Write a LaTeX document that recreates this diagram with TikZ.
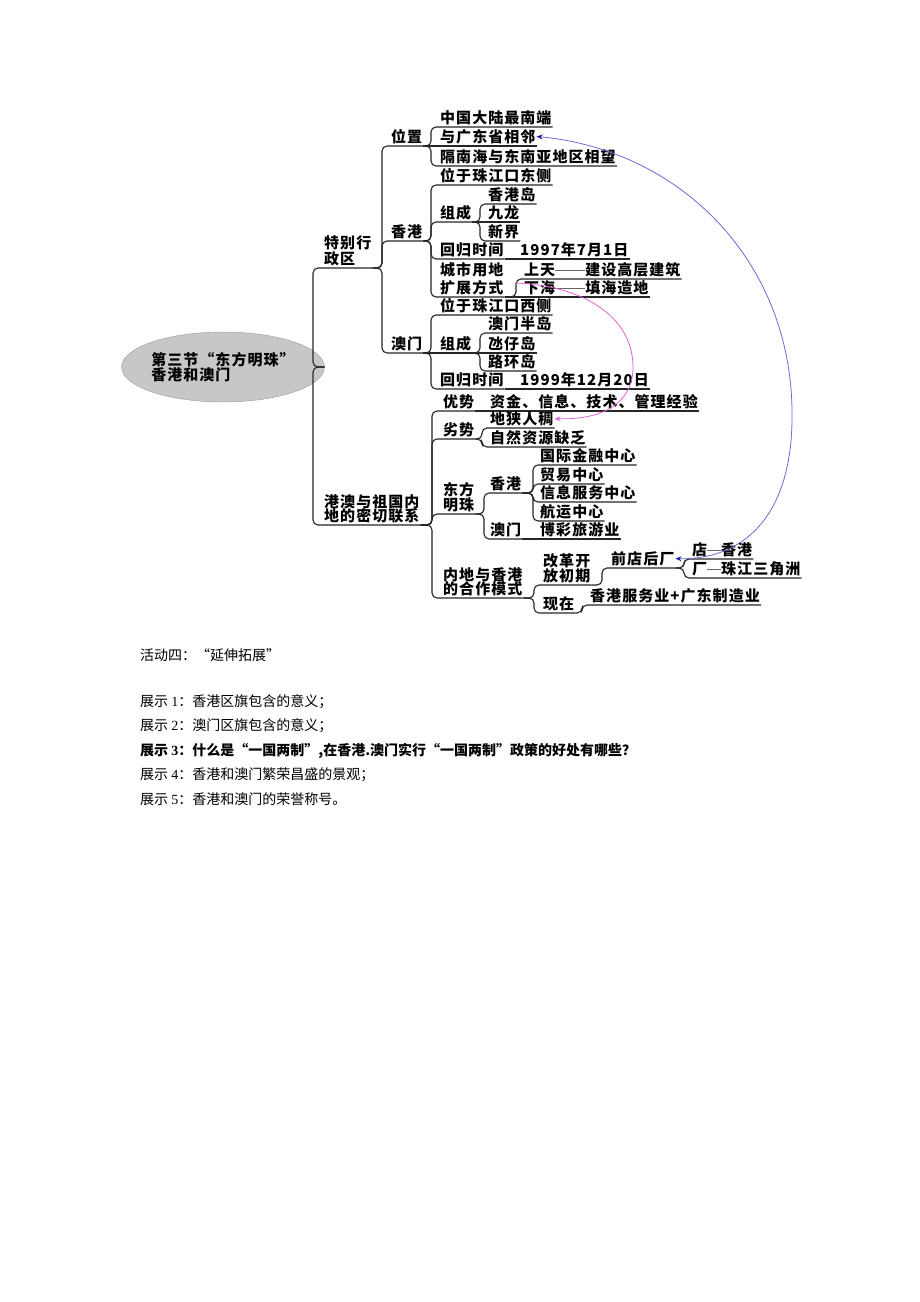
\documentclass[tikz,border=0pt]{standalone}
\usepackage{fontspec}
\setmainfont{Liberation Serif}
\newfontfamily\mmf[LetterSpace=7]{Noto Sans CJK SC}
\newfontfamily\cjkf{Noto Sans CJK SC}
\usetikzlibrary{arrows.meta,shapes.geometric}
\definecolor{pinkc}{HTML}{E066D6}
\definecolor{bluec}{HTML}{6B6BD6}
\definecolor{blueh}{HTML}{1A1AB0}
\newcommand\ldash[1]{\textcolor{black!60}{\rule[0.32em]{#1}{0.7pt}}}
\newcommand\kids[3]{\foreach \cc in {#3}{\draw[br] (#1.south east) -- (#2,0 |- #1.south east) -- (#2,0 |- \cc.south) -- (\cc.south east);}}
\newcommand\solo[2]{\draw[br] (#1.south east) -- (#2.south east);}
\begin{document}
\begin{tikzpicture}[x=1pt,y=-1pt,
 lbl/.style={font=\mmf\bfseries\fontsize{15}{16}\selectfont, inner xsep=1pt, inner ysep=2pt, anchor=south west, align=left},
 br/.style={line width=1.1pt, black!85, rounded corners=5pt},
 txt/.style={font=\cjkf\fontsize{14}{16}\selectfont, anchor=west, inner sep=0pt}]
\fill[white] (0,0) rectangle (920,1302);
\useasboundingbox (0,0) rectangle (920,1302);

% root
\node[draw=black!40, fill=black!22, ellipse, minimum width=168pt, minimum height=70pt, font=\mmf\bfseries\fontsize{15}{15}\selectfont, align=left, inner sep=0pt] (root) at (223,367) {第三节“东方明珠”\\香港和澳门};

% level 1
\node[lbl] (tb) at (323,268) {特别行\\政区};
\node[lbl] (gal) at (323,525) {港澳与祖国内\\[-2pt]地的密切联系};
\draw[br] (root.east) -- (313,0 |- root.east) -- (313,0 |- tb.south) -- (tb.south east);
\draw[br] (root.east) -- (313,0 |- root.east) -- (313,0 |- gal.south) -- (gal.south east);

% level 2 (special regions)
\node[lbl] (wz) at (390,146) {位置};
\node[lbl] (xg) at (390,241) {香港};
\node[lbl] (am) at (390,353) {澳门};
\kids{tb}{382}{wz,xg,am}

\node[lbl] (w1) at (439,127) {中国大陆最南端};
\node[lbl] (w2) at (439,146) {与广东省相邻};
\node[lbl] (w3) at (439,166) {隔南海与东南亚地区相望};
\kids{wz}{431}{w1,w3}
\solo{wz}{w2}

\node[lbl] (x1) at (439,185) {位于珠江口东侧};
\node[lbl] (x2) at (439,222) {组成};
\node[lbl] (x3) at (439,259) {回归时间};
\node[lbl] (x4) at (439,297) {城市用地\\[2pt]扩展方式};
\kids{xg}{431}{x1,x2,x3,x4}

\node[lbl] (x21) at (487,204) {香港岛};
\node[lbl] (x22) at (487,222) {九龙};
\node[lbl] (x23) at (487,241) {新界};
\kids{x2}{480}{x21,x23}
\solo{x2}{x22}
\node[lbl] (x31) at (519,259) {1997年7月1日};
\solo{x3}{x31}
\node[lbl] (x41) at (523,279) {上天\ldash{30pt}建设高层建筑};
\node[lbl] (x42) at (523,297) {下海\ldash{30pt}填海造地};
\kids{x4}{516}{x41}
\solo{x4}{x42}

\node[lbl] (a1) at (439,315) {位于珠江口西侧};
\node[lbl] (a2) at (439,353) {组成};
\node[lbl] (a3) at (439,389) {回归时间};
\kids{am}{431}{a1,a3}
\solo{am}{a2}
\node[lbl] (a21) at (487,333) {澳门半岛};
\node[lbl] (a22) at (487,353) {氹仔岛};
\node[lbl] (a23) at (487,371) {路环岛};
\kids{a2}{480}{a21,a23}
\solo{a2}{a22}
\node[lbl] (a31) at (519,389) {1999年12月20日};
\solo{a3}{a31}

% level 2 (links)
\node[lbl] (y1) at (442,411) {优势};
\node[lbl] (y2) at (442,439) {劣势};
\node[lbl] (y3) at (442,514) {东方\\[-1pt]明珠};
\node[lbl] (y4) at (442,598) {内地与香港\\[-2pt]的合作模式};
\kids{gal}{432}{y1,y2,y3,y4}

\node[lbl] (y11) at (489,411) {资金、信息、技术、管理经验};
\solo{y1}{y11}
\node[lbl] (y21) at (489,428) {地狭人稠};
\node[lbl] (y22) at (489,447) {自然资源缺乏};
\kids{y2}{482}{y21,y22}

\node[lbl] (y31) at (489,493) {香港};
\node[lbl] (y32) at (489,539) {澳门};
\kids{y3}{484}{y31,y32}
\node[lbl] (y311) at (539,465) {国际金融中心};
\node[lbl] (y312) at (539,484) {贸易中心};
\node[lbl] (y313) at (539,502) {信息服务中心};
\node[lbl] (y314) at (539,521) {航运中心};
\kids{y31}{533}{y311,y312,y313,y314}
\node[lbl] (y321) at (539,539) {博彩旅游业};
\solo{y32}{y321}

\node[lbl] (y41) at (542,585) {改革开\\[-1pt]放初期};
\node[lbl] (y42) at (542,613) {现在};
\kids{y4}{534}{y41,y42}
\node[lbl] (y411) at (610,568) {前店后厂};
\kids{y41}{602}{y411}
\node[lbl] (y4111) at (691,559) {店\ldash{14pt}香港};
\node[lbl] (y4112) at (691,578) {厂\ldash{14pt}珠江三角洲};
\kids{y411}{684}{y4111,y4112}
\node[lbl] (y421) at (589,605) {香港服务业+广东制造业};
\kids{y42}{582}{y421}

% cross arrows
\coordinate (ps) at (515,283);
\draw[pinkc, line width=0.8pt, -{Stealth[length=6pt,width=5pt]}] (ps) .. controls (580,285) and (633,315) .. (633,367) .. controls (633,405) and (600,420) .. (y21.east);
\draw[bluec, line width=0.8pt, {Stealth[length=6pt,width=5pt,color=blueh]}-{Stealth[length=6pt,width=5pt,color=blueh]}] (y411.east) .. controls (740,560) and (794,520) .. (792,410) .. controls (790,260) and (680,150) .. (w2.east);

% text below
\node[txt] (t0) at (140,655) {活动四：“延伸拓展”};
\node[txt] (t1) at (140,702) {展示 {\rmfamily 1}：香港区旗包含的意义；};
\node[txt] (t2) at (140,726) {展示 {\rmfamily 2}：澳门区旗包含的意义；};
\node[txt, font=\cjkf\bfseries\fontsize{14}{16}\selectfont] (t3) at (140,751) {展示 {\rmfamily\bfseries 3}：什么是“一国两制”,在香港.澳门实行“一国两制”政策的好处有哪些？};
\node[txt] (t4) at (140,775) {展示 {\rmfamily 4}：香港和澳门繁荣昌盛的景观；};
\node[txt] (t5) at (140,799) {展示 {\rmfamily 5}：香港和澳门的荣誉称号。};
\end{tikzpicture}
\end{document}
